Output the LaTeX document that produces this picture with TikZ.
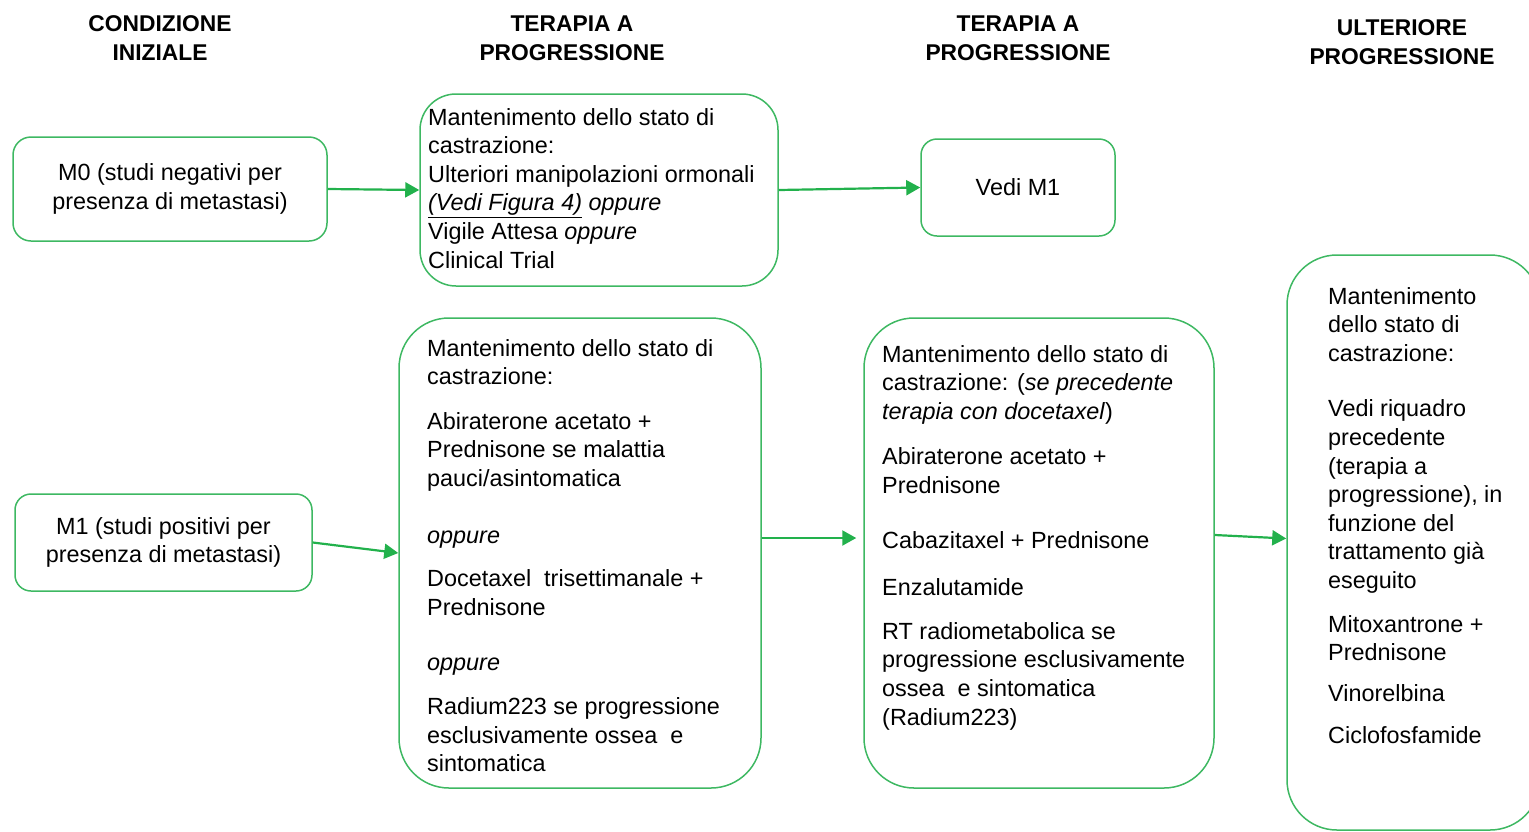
\documentclass[tikz,border=0pt]{standalone}
\usepackage{fontspec}
\setmainfont{Liberation Sans}
\usetikzlibrary{arrows.meta}

\definecolor{boxgreen}{RGB}{62,184,98}
\definecolor{arrgreen}{RGB}{34,177,76}
\newcommand{\bodyfont}{\fontsize{23.4}{28.6}\selectfont}
\newcommand{\headfont}{\fontsize{22.8}{29}\selectfont\bfseries}

\tikzset{
  box/.style={draw=boxgreen, line width=1.5pt, rectangle, inner sep=0pt, align=center, font=\bodyfont},
  txt/.style={anchor=north west, align=left, inner sep=0pt, font=\bodyfont},
  head/.style={anchor=north, align=center, inner sep=0pt, font=\headfont},
  arr/.style={draw=arrgreen, line width=2.2pt, -{Triangle[length=14pt,width=15pt]}}
}

\begin{document}
\begin{tikzpicture}[x=1pt,y=-1pt]
    \useasboundingbox (0,0) rectangle (1529,831);
    \clip (0,0) rectangle (1529,831);
    % headings
    \node[head] (h1) at (160,15.5) {CONDIZIONE\\INIZIALE};
    \node[head] (h2) at (572,15.5) {TERAPIA A\\PROGRESSIONE};
    \node[head] (h3) at (1018,15.5) {TERAPIA A\\PROGRESSIONE};
    \node[head] (h4) at (1402,19.5) {ULTERIORE\\PROGRESSIONE};
    % boxes
    \node[box, rounded corners=18pt, minimum width=314pt, minimum height=104pt] (m0) at (170,189) {M0 (studi negativi per\\presenza di metastasi)};
    \node[box, rounded corners=36pt, minimum width=358pt, minimum height=192pt] (tb) at (599,190) {};
    \node[box, rounded corners=16pt, minimum width=194pt, minimum height=97pt] (vm) at (1018,187.5) {Vedi M1};
    \node[box, rounded corners=16pt, minimum width=297pt, minimum height=97pt] (m1) at (163.5,542.5) {M1 (studi positivi per\\presenza di metastasi)};
    \node[box, rounded corners=50pt, minimum width=362pt, minimum height=470pt] (bm) at (580,553) {};
    \node[box, rounded corners=50pt, minimum width=350pt, minimum height=470pt] (b3) at (1039,553) {};
    \node[box, rounded corners=50pt, minimum width=253pt, minimum height=575pt] (b4) at (1413.5,542.5) {};
    % box texts
    \node[txt] (tbt) at (428,108) {Mantenimento dello stato di\\castrazione:\\Ulteriori manipolazioni ormonali\\\underline{\textit{(Vedi Figura 4)}} \textit{oppure}\\Vigile Attesa \textit{oppure}\\Clinical Trial};
    \node[txt] (bmt) at (427,339) {Mantenimento dello stato di\\castrazione:\\[16pt]
      Abiraterone acetato +\\Prednisone se malattia\\pauci/asintomatica\\[28pt]
      \textit{oppure}\\[15pt]
      Docetaxel\ \ trisettimanale +\\Prednisone\\[27pt]
      \textit{oppure}\\[15pt]
      Radium223 se progressione\\esclusivamente ossea\ \ e\\sintomatica};
    \node[txt] (b3t) at (882,345) {Mantenimento dello stato di\\castrazione: (\textit{se precedente}\\\textit{terapia con docetaxel})\\[17pt]
      Abiraterone acetato +\\Prednisone\\[26pt]
      Cabazitaxel + Prednisone\\[19pt]
      Enzalutamide\\[15pt]
      RT radiometabolica se\\progressione esclusivamente\\ossea\ \ e sintomatica\\(Radium223)};
    \node[txt] (b4t) at (1328,287) {Mantenimento\\dello stato di\\castrazione:\\[27pt]
      Vedi riquadro\\precedente\\(terapia a\\progressione), in\\funzione del\\trattamento già\\eseguito\\[15pt]
      Mitoxantrone +\\Prednisone\\[12pt]
      Vinorelbina\\[14pt]
      Ciclofosfamide};
    % arrows
    \draw[arr] (m0.east) -- (tb.west);
    \draw[arr] (tb.east) -- (vm.west);
    \draw[arr] (m1.east) -- (bm.west);
    \draw[arr] ([yshift=15pt]bm.east) -- ([xshift=-7pt,yshift=15pt]b3.west);
    \draw[arr] ([yshift=18pt]b3.east) -- ([yshift=4pt]b4.west);
\end{tikzpicture}
\end{document}
